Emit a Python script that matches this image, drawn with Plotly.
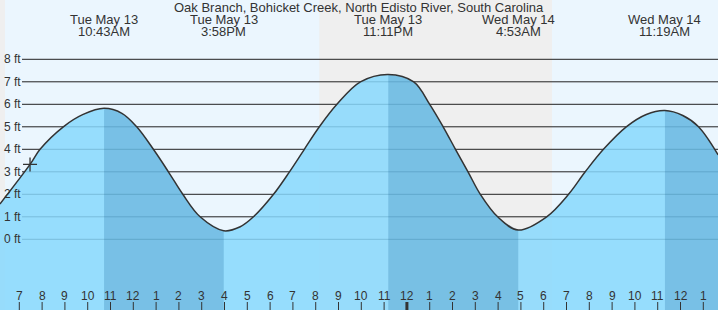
import plotly.graph_objects as go

# ---------------- data ----------------
title_text = "Oak Branch, Bohicket Creek, North Edisto River, South Carolina"

# hours since Tue May 13 00:00, tide height in ft
tide_hours = [6.15, 7.47, 7.91, 8.93, 9.80, 10.717, 11.50, 12.15, 12.88, 13.54, 14.17, 14.93,
              15.967, 16.69, 17.27, 18.15, 18.85, 19.50, 20.16, 20.93, 21.96, 23.183,
              24.30, 25.00, 25.59, 26.13, 26.68, 27.22, 27.98, 28.883, 30.13, 31.09,
              31.82, 32.62, 33.62, 34.50, 35.317, 36.10, 36.79, 37.65]
tide_ft = [1.57, 3.33, 4.00, 5.00, 5.55, 5.82, 5.60, 5.00, 4.00, 3.00, 2.00, 1.00,
           0.38, 0.56, 1.00, 2.00, 3.00, 4.00, 5.00, 6.00, 7.00, 7.33,
           7.00, 6.00, 5.00, 4.00, 3.00, 2.00, 1.00, 0.41, 1.00, 2.00,
           3.00, 4.00, 5.00, 5.55, 5.72, 5.50, 5.00, 3.75]

extreme_hours = [10.717, 15.967, 23.183, 28.883, 35.317]
extreme_days = ["Tue May 13", "Tue May 13", "Tue May 13", "Wed May 14", "Wed May 14"]
extreme_times = ["10:43AM", "3:58PM", "11:11PM", "4:53AM", "11:19AM"]

falling_start = [10.717, 23.183, 35.317]
falling_end = [15.967, 28.883, 37.65]

night_start = [6.0, 20.157]
night_end = [6.372, 30.364]

grid_ft = [0, 1, 2, 3, 4, 5, 6, 7, 8]
grid_labels = ["0 ft", "1 ft", "2 ft", "3 ft", "4 ft", "5 ft", "6 ft", "7 ft", "8 ft"]

tick_hours = [7, 8, 9, 10, 11, 12, 13, 14, 15, 16, 17, 18, 19, 20, 21, 22, 23, 24,
              25, 26, 27, 28, 29, 30, 31, 32, 33, 34, 35, 36, 37]
tick_labels = ["7", "8", "9", "10", "11", "12", "1", "2", "3", "4", "5", "6", "7", "8",
               "9", "10", "11", "12", "1", "2", "3", "4", "5", "6", "7", "8", "9", "10",
               "11", "12", "1"]
midnight_hour = 24

now_hour = 7.47
now_ft = 3.33

# ---------------- styling / geometry ----------------
W, H = 718, 310
PX_PER_HOUR = 22.8
X_MIN = 6.153
X_MAX = X_MIN + W / PX_PER_HOUR
PX_PER_FT = 22.5
ZERO_PX = 239.3
Y_MIN = -(H - ZERO_PX) / PX_PER_FT
Y_MAX = ZERO_PX / PX_PER_FT
BASE = Y_MIN - 2

DAY_BG = "#ebf6fe"
NIGHT_BG = "#efefef"
LIGHT_FILL = "rgba(135,216,253,0.85)"
DARK_FILL = "rgba(0,80,140,0.20)"
TEXT = "#333333"
FONT = "Liberation Sans, Arial, sans-serif"


def py(p):
    """pixel row -> paper y"""
    return 1 - p / H


fig = go.Figure()

# light fill under entire curve
fig.add_trace(go.Scatter(x=tide_hours, y=[BASE] * len(tide_hours), mode="lines",
                         line=dict(width=0), hoverinfo="skip", showlegend=False))
fig.add_trace(go.Scatter(x=tide_hours, y=tide_ft, mode="lines", fill="tonexty",
                         fillcolor=LIGHT_FILL, line=dict(width=0, shape="spline"),
                         hoverinfo="skip", showlegend=False))

# darker fill for falling tide segments
for s, e in zip(falling_start, falling_end):
    xs = [h for h in tide_hours if s - 1e-6 <= h <= e + 1e-6]
    ys = [v for h, v in zip(tide_hours, tide_ft) if s - 1e-6 <= h <= e + 1e-6]
    fig.add_trace(go.Scatter(x=xs, y=[BASE] * len(xs), mode="lines",
                             line=dict(width=0), hoverinfo="skip", showlegend=False))
    fig.add_trace(go.Scatter(x=xs, y=ys, mode="lines", fill="tonexty",
                             fillcolor=DARK_FILL, line=dict(width=0, shape="spline"),
                             hoverinfo="skip", showlegend=False))

# the tide curve
fig.add_trace(go.Scatter(x=tide_hours, y=tide_ft, mode="lines",
                         line=dict(color="#333333", width=1.5, shape="spline"),
                         showlegend=False))

# current time marker
fig.add_trace(go.Scatter(x=[now_hour], y=[now_ft], mode="markers",
                         marker=dict(symbol="cross-thin", size=10,
                                     line=dict(color="#333333", width=1.3)),
                         showlegend=False))

shapes = []
for s, e in zip(night_start, night_end):
    shapes.append(dict(type="rect", xref="x", yref="paper", x0=s, x1=e, y0=0, y1=1,
                       fillcolor=NIGHT_BG, line=dict(width=0), layer="below"))
for g in grid_ft:
    shapes.append(dict(type="line", xref="paper", yref="y", x0=22 / W, x1=1, y0=g, y1=g,
                       line=dict(color="#222222", width=1), layer="below"))
for t in tick_hours:
    shapes.append(dict(type="line", xref="x", yref="paper", x0=t, x1=t, y0=0, y1=8 / H,
                       line=dict(color="#333333", width=3 if t == midnight_hour else 1),
                       layer="above"))

annotations = [dict(text=title_text, xref="paper", yref="paper", x=0.5, y=py(7.5),
                    xanchor="center", yanchor="middle", showarrow=False,
                    font=dict(size=13, color=TEXT, family=FONT))]
for h, d, t in zip(extreme_hours, extreme_days, extreme_times):
    annotations.append(dict(text=d, xref="x", yref="paper", x=h, y=py(19.7),
                            xanchor="center", yanchor="middle", showarrow=False,
                            font=dict(size=13, color=TEXT, family=FONT)))
    annotations.append(dict(text=t, xref="x", yref="paper", x=h, y=py(31.7),
                            xanchor="center", yanchor="middle", showarrow=False,
                            font=dict(size=13, color=TEXT, family=FONT)))
for g, lab in zip(grid_ft, grid_labels):
    annotations.append(dict(text=lab, xref="paper", yref="y", x=2 / W, y=g,
                            xanchor="left", yanchor="middle", showarrow=False,
                            font=dict(size=12, color=TEXT, family=FONT)))
for t, lab in zip(tick_hours, tick_labels):
    annotations.append(dict(text=lab, xref="x", yref="paper", x=t, y=py(295.7),
                            xanchor="center", yanchor="middle", showarrow=False,
                            font=dict(size=12, color=TEXT, family=FONT)))

fig.update_layout(
    width=W, height=H, margin=dict(l=0, r=0, t=0, b=0),
    paper_bgcolor=DAY_BG, plot_bgcolor=DAY_BG,
    xaxis=dict(range=[X_MIN, X_MAX], visible=False, fixedrange=True),
    yaxis=dict(range=[Y_MIN, Y_MAX], visible=False, fixedrange=True),
    shapes=shapes, annotations=annotations, showlegend=False,
)

fig.write_html("out.html")
